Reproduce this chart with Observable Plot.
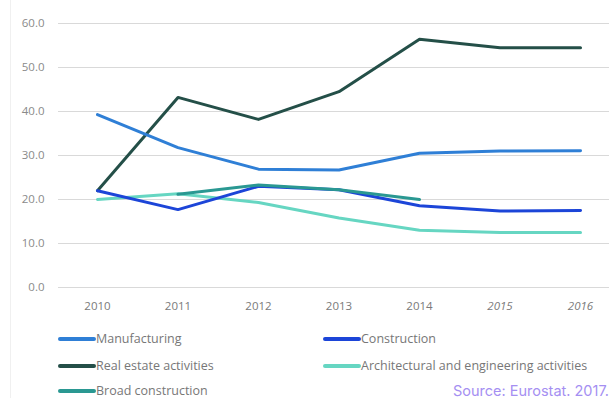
<!DOCTYPE html>
<html>
<head>
<meta charset="utf-8">
<script src="https://cdn.jsdelivr.net/npm/d3@7"></script>
<script src="https://cdn.jsdelivr.net/npm/@observablehq/plot@0.6"></script>
<style>
  html, body { margin: 0; padding: 0; background: #fff; }
  body { width: 609px; height: 398px; overflow: hidden; position: relative; font-family: "Open Sans", "Noto Sans", sans-serif; }
  #chart { position: absolute; left: 0; top: 0; }
  .frame { position: absolute; left: 10px; top: 0; width: 1px; height: 398px; background: #f0f0f0; }
  .legend { position: absolute; font-size: 12.5px; line-height: 14px; height: 14px; color: #777; display: flex; align-items: center; white-space: nowrap; }
  .legend .sw { display: inline-block; width: 38px; height: 4px; margin-right: 0px; border-radius: 2px; }
  .source { position: absolute; right: 0px; top: 382px; line-height: 18px; font-family: Inter, sans-serif; font-size: 14.5px; color: #a58ff2; }
</style>
</head>
<body>
<div class="frame"></div>
<div id="chart"></div>
<div id="legend"></div>
<div class="source">Source: Eurostat. 2017.</div>
<script>
const years = [2010, 2011, 2012, 2013, 2014, 2015, 2016];
const yearLabels = ["2010", "2011", "2012", "2013", "2014", "2015", "2016"];
const italicYears = [2015, 2016];
const yTicks = [0, 10, 20, 30, 40, 50, 60];

const seriesNames = ["Manufacturing", "Construction", "Real estate activities", "Architectural and engineering activities", "Broad construction"];
const seriesColors = ["#2f7fd6", "#1c45d8", "#244f48", "#66d6c2", "#2a9892"];

const manufacturing = [39.3, 31.8, 26.9, 26.7, 30.5, 31.0, 31.1];
const construction  = [22.0, 17.7, 23.0, 22.2, 18.6, 17.4, 17.5];
const realEstate    = [22.0, 43.2, 38.2, 44.5, 56.4, 54.5, 54.5];
const architectural = [20.0, 21.3, 19.3, 15.8, 13.0, 12.5, 12.5];
const broadYears    = [2011, 2012, 2013, 2014];
const broadConstruction = [21.2, 23.3, 22.2, 20.0];

const seriesValues = [manufacturing, construction, realEstate, architectural, broadConstruction];
const seriesYears = [years, years, years, years, broadYears];

const rows = [];
seriesNames.forEach((name, i) => {
  seriesValues[i].forEach((v, j) => rows.push({series: name, year: seriesYears[i][j], value: v}));
});
const drawOrder = ["Real estate activities", "Manufacturing", "Architectural and engineering activities", "Construction", "Broad construction"];

const tickRows = years.map((y, i) => ({year: y, label: yearLabels[i], italic: italicYears.includes(y)}));

const chart = Plot.plot({
  width: 609,
  height: 318,
  marginLeft: 58,
  marginRight: 0,
  marginTop: 23,
  marginBottom: 31,
  style: {fontFamily: '"Open Sans", "Noto Sans", sans-serif', background: "transparent"},
  x: {type: "linear", domain: [2009.516, 2016.36], axis: null},
  y: {domain: [0, 60], axis: null},
  color: {domain: seriesNames, range: seriesColors},
  marks: [
    Plot.ruleY(yTicks, {stroke: "#d9d9d9", strokeWidth: 1}),
    Plot.text(yTicks, {x: 2009.516, y: d => d, text: d => d.toFixed(1), textAnchor: "end", dx: -14, fill: "#8a8a8a", fontSize: 11.5}),
    Plot.text(tickRows.filter(d => !d.italic), {x: "year", y: 0, text: "label", dy: 19, fill: "#7a7a7a", fontSize: 11.5}),
    Plot.text(tickRows.filter(d => d.italic), {x: "year", y: 0, text: "label", dy: 19, fill: "#7a7a7a", fontSize: 11.5, fontStyle: "italic"}),
    ...drawOrder.map(name => Plot.line(rows.filter(r => r.series === name), {x: "year", y: "value", stroke: "series", strokeWidth: 3, curve: "linear"}))
  ]
});
document.getElementById("chart").appendChild(chart);

const legendPos = [
  {left: 58, top: 332},
  {left: 323, top: 332},
  {left: 58, top: 359},
  {left: 323, top: 359},
  {left: 58, top: 384}
];
const legend = document.getElementById("legend");
seriesNames.forEach((name, i) => {
  const d = document.createElement("div");
  d.className = "legend";
  d.style.left = legendPos[i].left + "px";
  d.style.top = legendPos[i].top + "px";
  d.innerHTML = `<span class="sw" style="background:${seriesColors[i]}"></span><span>${name}</span>`;
  legend.appendChild(d);
});
</script>
</body>
</html>
